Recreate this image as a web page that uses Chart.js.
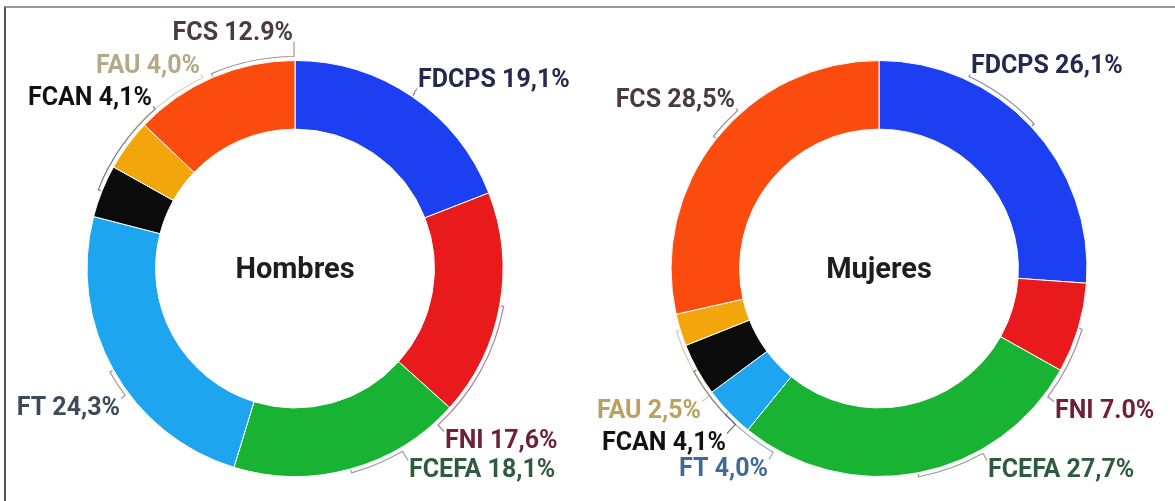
<!DOCTYPE html>
<html>
<head>
<meta charset="utf-8">
<script src="https://cdn.jsdelivr.net/npm/chart.js@4.4.1/dist/chart.umd.min.js"></script>
<style>
  html, body { margin: 0; padding: 0; background: #ffffff; }
  body { width: 1175px; height: 501px; position: relative; overflow: hidden; }
  #frame { position: absolute; left: 4px; top: 6px; width: 1200px; height: 600px;
           border-top: 2px solid #9a9a9a; border-left: 2px solid #555555; box-sizing: border-box; }
  canvas { position: absolute; top: 0; }
  #c1 { left: 0px; }
  #c2 { left: 584px; }
</style>
</head>
<body>
<div id="frame"></div>
<canvas id="c1" width="590" height="501"></canvas>
<canvas id="c2" width="590" height="501"></canvas>
<script>
// ---- data ----
const categories = ['FDCPS', 'FNI', 'FCEFA', 'FT', 'FCAN', 'FAU', 'FCS'];
const hombresValues = [19.1, 17.6, 18.1, 24.3, 4.1, 4.0, 12.9];
const mujeresValues = [26.1, 7.0, 27.7, 4.0, 4.1, 2.5, 28.5];
const hombresLabels = ['FDCPS 19,1%', 'FNI 17,6%', 'FCEFA 18,1%', 'FT 24,3%', 'FCAN 4,1%', 'FAU 4,0%', 'FCS 12.9%'];
const mujeresLabels = ['FDCPS 26,1%', 'FNI 7.0%', 'FCEFA 27,7%', 'FT 4,0%', 'FCAN 4,1%', 'FAU 2,5%', 'FCS 28,5%'];
const centerTitles = ['Hombres', 'Mujeres'];

// ---- styles ----
const sliceColors = ['#1c3ff2', '#e81a1c', '#19b334', '#1ea5f0', '#0b0b0b', '#f2a60c', '#fb4b0e'];
const hombresLabelColors = ['#242a4d', '#6e1f3a', '#2f5c3f', '#3c4a5a', '#111111', '#b3aa88', '#4b3a3e'];
const mujeresLabelColors = ['#242a4d', '#6e1f3a', '#2f5c3f', '#3f6a96', '#111111', '#bba060', '#4b3a3e'];
// label placement (offset of text anchor from doughnut centre, px) and alignment
const hombresPlacement = [
  { dx: 123, dy: -189, align: 'left' },
  { dx: 150, dy: 172, align: 'left' },
  { dx: 114, dy: 201, align: 'left' },
  { dx: -175, dy: 139, align: 'right' },
  { dx: -143, dy: -171, align: 'right' },
  { dx: -95, dy: -203, align: 'right' },
  { dx: -2, dy: -236, align: 'right' }
];
const mujeresPlacement = [
  { dx: 92, dy: -203, align: 'left' },
  { dx: 176, dy: 142, align: 'left' },
  { dx: 109, dy: 201, align: 'left' },
  { dx: -111, dy: 200, align: 'right' },
  { dx: -153, dy: 174, align: 'right' },
  { dx: -178, dy: 142, align: 'right' },
  { dx: -144, dy: -169, align: 'right' }
];

const FONT = 'Roboto, "Noto Sans", sans-serif';

const labelPlugin = {
  id: 'outerLabels',
  afterDatasetsDraw(chart, args, opts) {
    const ctx = chart.ctx;
    const meta = chart.getDatasetMeta(0);
    ctx.save();
    meta.data.forEach((arc, i) => {
      const p = opts.placement[i];
      const cx = arc.x, cy = arc.y, R = arc.outerRadius;
      const mid = (arc.startAngle + arc.endAngle) / 2;
      const text = opts.texts[i];
      const color = opts.colors[i];
      ctx.font = '700 25px ' + FONT;
      const tx = cx + p.dx, ty = cy + p.dy;
      // leader line
      const ax = tx + (p.align === 'left' ? -1 : 1);
      const ay = ty + (p.dy < 0 ? 9 : -9);
      const rL = R + 4;
      let thP = Math.atan2(ay - cy, ax - cx);
      let d = thP - mid;
      while (d > Math.PI) d -= 2 * Math.PI;
      while (d < -Math.PI) d += 2 * Math.PI;
      ctx.beginPath();
      ctx.moveTo(ax, ay);
      ctx.lineTo(cx + rL * Math.cos(thP), cy + rL * Math.sin(thP));
      ctx.arc(cx, cy, rL, thP, mid, d > 0);
      ctx.lineTo(cx + (R + 1) * Math.cos(mid), cy + (R + 1) * Math.sin(mid));
      ctx.strokeStyle = color;
      ctx.globalAlpha = 0.55;
      ctx.lineWidth = 1.2;
      ctx.stroke();
      ctx.globalAlpha = 1;
      // text
      ctx.fillStyle = color;
      ctx.textAlign = p.align;
      ctx.textBaseline = 'middle';
      ctx.fillText(text, tx, ty + 1);
    });
    // centre title
    const a0 = meta.data[0];
    ctx.font = '700 29px ' + FONT;
    ctx.fillStyle = '#1e1e1e';
    ctx.textAlign = 'center';
    ctx.textBaseline = 'middle';
    ctx.fillText(opts.title, a0.x, a0.y + 2);
    ctx.restore();
  }
};

function makeChart(id, values, texts, colors, placement, title) {
  return new Chart(document.getElementById(id), {
    type: 'doughnut',
    data: {
      labels: categories,
      datasets: [{
        data: values,
        backgroundColor: sliceColors,
        borderColor: '#ffffff',
        borderWidth: 1
      }]
    },
    options: {
      responsive: false,
      animation: false,
      cutout: '67%',
      layout: { padding: { top: 60, bottom: 24, left: 0, right: 0 } },
      plugins: {
        legend: { display: false },
        tooltip: { enabled: false },
        outerLabels: { texts, colors, placement, title }
      }
    },
    plugins: [labelPlugin]
  });
}

makeChart('c1', hombresValues, hombresLabels, hombresLabelColors, hombresPlacement, centerTitles[0]);
makeChart('c2', mujeresValues, mujeresLabels, mujeresLabelColors, mujeresPlacement, centerTitles[1]);
</script>
</body>
</html>
